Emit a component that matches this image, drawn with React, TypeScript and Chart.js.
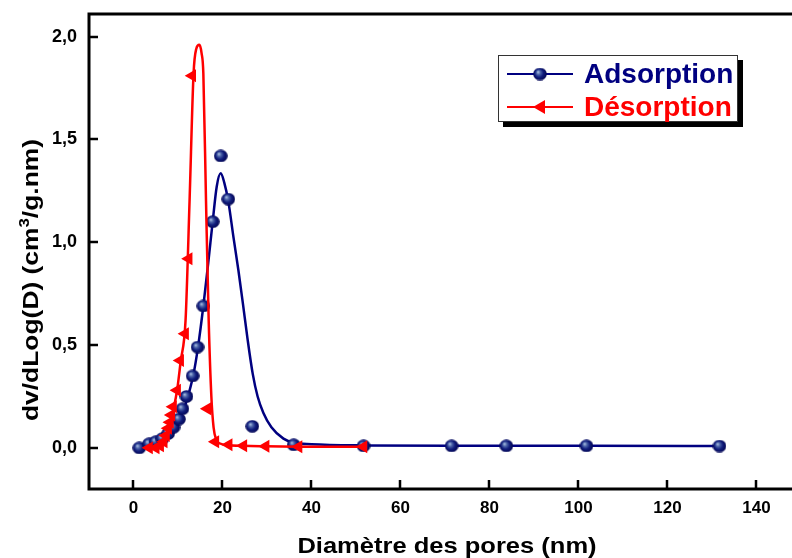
import React, { useEffect, useRef } from "react";
import { Chart, registerables } from "chart.js";

Chart.register(...registerables);

// ---- data ----
const X_TICKS = [0, 20, 40, 60, 80, 100, 120, 140];
const Y_TICKS = [0, 0.5, 1.0, 1.5, 2.0];

const ADS_POINTS_X = [1.3, 3.5, 5.0, 6.5, 7.8, 9.0, 10.2, 11.0, 11.9, 13.3, 14.4, 15.7, 17.8, 19.6, 21.3, 26.7, 36.0, 51.7, 71.5, 83.8, 101.8, 131.7];
const ADS_POINTS_Y = [0.0, 0.02, 0.03, 0.045, 0.07, 0.1, 0.14, 0.19, 0.25, 0.35, 0.49, 0.69, 1.1, 1.42, 1.21, 0.105, 0.015, 0.01, 0.01, 0.01, 0.01, 0.009];

const ADS_CURVE_X = [1.3, 3, 5, 7, 9, 10.5, 11.5, 12.5, 13.5, 14.5, 15.7, 16.8, 17.8, 18.7, 19.6, 20.4, 21.3, 22.5, 23.6, 24.6, 25.6, 26.8, 27.9, 29.2, 31, 33.7, 36, 40, 51.7, 71.5, 83.8, 101.8, 131.7];
const ADS_CURVE_Y = [0.0, 0.015, 0.03, 0.055, 0.1, 0.15, 0.2, 0.27, 0.36, 0.49, 0.69, 0.9, 1.1, 1.27, 1.335, 1.29, 1.2, 1.02, 0.86, 0.7, 0.535, 0.36, 0.25, 0.17, 0.1, 0.045, 0.025, 0.018, 0.012, 0.01, 0.01, 0.01, 0.009];

const DES_POINTS_X = [3.5, 5.0, 6.0, 6.8, 7.3, 7.8, 8.2, 8.5, 8.9, 9.8, 10.5, 11.6, 12.4, 13.2, 16.6, 18.4, 21.4, 24.7, 29.7, 37.1, 51.7];
const DES_POINTS_Y = [0.0, 0.0, 0.01, 0.03, 0.06, 0.095, 0.125, 0.16, 0.2, 0.28, 0.425, 0.555, 0.92, 1.81, 0.19, 0.03, 0.015, 0.01, 0.008, 0.006, 0.005];

const DES_CURVE_X = [3.5, 5, 6.5, 7.8, 8.9, 9.8, 10.6, 11.7, 12.6, 13.5, 14.1, 14.8, 15.3, 15.7, 16.3, 16.9, 17.5, 18.0, 18.6, 19.6, 21.4, 24.7, 29.7, 37.1, 51.7];
const DES_CURVE_Y = [0.0, 0.005, 0.025, 0.08, 0.18, 0.28, 0.42, 0.62, 1.2, 1.82, 1.94, 1.96, 1.92, 1.82, 1.2, 0.62, 0.25, 0.1, 0.04, 0.02, 0.013, 0.01, 0.008, 0.006, 0.005];

const SERIES_NAMES = ["Adsorption", "Désorption"];
const X_TITLE = "Diamètre des pores (nm)";
const Y_TITLE_A = "dv/dLog(D) (cm";
const Y_TITLE_SUP = "3";
const Y_TITLE_B = "/g.nm)";

const NAVY = "#000080";
const RED = "#ff0000";
const FONT = '"Liberation Sans", Arial, sans-serif';

const zip = (xs: number[], ys: number[]) => xs.map((x, i) => ({ x, y: ys[i] }));

function makeSphere(): HTMLCanvasElement {
  const c = document.createElement("canvas");
  c.width = 14;
  c.height = 13;
  const g = c.getContext("2d")!;
  const grad = g.createRadialGradient(5, 4.5, 0.3, 7, 6.5, 7.5);
  grad.addColorStop(0, "#a8bde0");
  grad.addColorStop(0.25, "#4a62a8");
  grad.addColorStop(0.55, "#101c7c");
  grad.addColorStop(1, "#000048");
  g.fillStyle = grad;
  g.beginPath();
  g.ellipse(7, 6.5, 6.8, 6.3, 0, 0, Math.PI * 2);
  g.fill();
  return c;
}

export default function App() {
  const ref = useRef<HTMLCanvasElement | null>(null);

  useEffect(() => {
    document.body.style.margin = "0";
    const canvas = ref.current!;
    const sphere = makeSphere();

    const decor = {
      id: "decor",
      afterDraw(chart: any) {
        const { ctx, chartArea } = chart;
        const { left, right, top, bottom } = chartArea;
        const xs = chart.scales.x;
        const ys = chart.scales.y;
        ctx.save();
        // frame
        ctx.strokeStyle = "#000";
        ctx.lineWidth = 3;
        ctx.lineCap = "butt";
        ctx.beginPath();
        ctx.moveTo(right + 4, top);
        ctx.lineTo(left, top);
        ctx.lineTo(left, bottom);
        ctx.lineTo(right + 4, bottom);
        ctx.stroke();
        // inward ticks
        ctx.lineWidth = 2.5;
        ctx.beginPath();
        X_TICKS.forEach((v) => {
          const px = Math.round(xs.getPixelForValue(v));
          ctx.moveTo(px, bottom);
          ctx.lineTo(px, bottom - 9);
        });
        Y_TICKS.forEach((v) => {
          const py = Math.round(ys.getPixelForValue(v));
          ctx.moveTo(left, py);
          ctx.lineTo(left + 9, py);
        });
        ctx.stroke();

        // x title
        ctx.fillStyle = "#000";
        ctx.font = `bold 22px ${FONT}`;
        ctx.textBaseline = "alphabetic";
        ctx.save();
        ctx.translate(447, 553);
        ctx.scale(1.16, 1);
        ctx.textAlign = "center";
        ctx.fillText(X_TITLE, 0, 0);
        ctx.restore();

        // y title (rotated, with superscript)
        ctx.save();
        ctx.translate(38, 280);
        ctx.rotate(-Math.PI / 2);
        ctx.scale(1.2, 1);
        ctx.textAlign = "left";
        ctx.font = `bold 22px ${FONT}`;
        const wa = ctx.measureText(Y_TITLE_A).width;
        const wb = ctx.measureText(Y_TITLE_B).width;
        ctx.font = `bold 14px ${FONT}`;
        const ws = ctx.measureText(Y_TITLE_SUP).width;
        const total = wa + ws + wb;
        let cx = -total / 2;
        ctx.font = `bold 22px ${FONT}`;
        ctx.fillText(Y_TITLE_A, cx, 0);
        cx += wa;
        ctx.font = `bold 14px ${FONT}`;
        ctx.fillText(Y_TITLE_SUP, cx, -9);
        cx += ws;
        ctx.font = `bold 22px ${FONT}`;
        ctx.fillText(Y_TITLE_B, cx, 0);
        ctx.restore();

        // legend
        const bx = 498, by = 55, bw = 240, bh = 67;
        ctx.fillStyle = "#000";
        ctx.fillRect(bx + 5, by + 5, bw, bh);
        ctx.fillStyle = "#fff";
        ctx.fillRect(bx, by, bw, bh);
        ctx.strokeStyle = "#333";
        ctx.lineWidth = 1;
        ctx.strokeRect(bx + 0.5, by + 0.5, bw - 1, bh - 1);

        // entry 1
        ctx.strokeStyle = NAVY;
        ctx.lineWidth = 2;
        ctx.beginPath();
        ctx.moveTo(507, 74);
        ctx.lineTo(573, 74);
        ctx.stroke();
        ctx.drawImage(sphere, 540 - 7, 74 - 6.5);
        ctx.fillStyle = NAVY;
        ctx.font = `bold 28px ${FONT}`;
        ctx.textAlign = "left";
        ctx.fillText(SERIES_NAMES[0], 584, 83);

        // entry 2
        ctx.strokeStyle = RED;
        ctx.beginPath();
        ctx.moveTo(507, 107);
        ctx.lineTo(573, 107);
        ctx.stroke();
        ctx.fillStyle = RED;
        ctx.beginPath();
        ctx.moveTo(533, 107);
        ctx.lineTo(545, 100);
        ctx.lineTo(545, 114);
        ctx.closePath();
        ctx.fill();
        ctx.fillText(SERIES_NAMES[1], 584, 116);
        ctx.restore();
      },
    };

    const chart = new Chart(canvas, {
      type: "scatter",
      data: {
        datasets: [
          {
            label: SERIES_NAMES[1] + " points",
            data: zip(DES_POINTS_X, DES_POINTS_Y),
            showLine: false,
            pointStyle: "triangle",
            rotation: 270,
            pointRadius: 7.5,
            pointBackgroundColor: RED,
            pointBorderColor: RED,
            pointBorderWidth: 0,
            clip: 10,
          } as any,
          {
            label: SERIES_NAMES[1],
            data: zip(DES_CURVE_X, DES_CURVE_Y),
            showLine: true,
            borderColor: RED,
            borderWidth: 2.5,
            pointRadius: 0,
            cubicInterpolationMode: "monotone",
          } as any,
          {
            label: SERIES_NAMES[0] + " points",
            data: zip(ADS_POINTS_X, ADS_POINTS_Y),
            showLine: false,
            pointStyle: sphere,
            pointRadius: 7,
            clip: 10,
          } as any,
          {
            label: SERIES_NAMES[0],
            data: zip(ADS_CURVE_X, ADS_CURVE_Y),
            showLine: true,
            borderColor: NAVY,
            borderWidth: 2.5,
            pointRadius: 0,
            cubicInterpolationMode: "monotone",
          } as any,
        ],
      },
      options: {
        animation: false,
        responsive: false,
        devicePixelRatio: 1,
        layout: { autoPadding: false, padding: { top: 14, right: 0, bottom: 0, left: 0 } },
        plugins: {
          legend: { display: false },
          tooltip: { enabled: false },
          title: { display: false },
        },
        scales: {
          x: {
            type: "linear",
            min: -10,
            max: 148,
            grid: { display: false, drawTicks: false },
            border: { display: false },
            afterBuildTicks: (axis: any) => {
              axis.ticks = X_TICKS.map((v) => ({ value: v }));
            },
            afterFit: (axis: any) => {
              axis.height = 69;
              axis.paddingLeft = 0;
              axis.paddingRight = 0;
            },
            ticks: {
              padding: 9,
              maxRotation: 0,
              autoSkip: false,
              color: "#000",
              font: { family: FONT, size: 17, weight: "bold" },
              callback: (v: any) => String(v),
            },
          },
          y: {
            type: "linear",
            min: -0.2,
            max: 2.11,
            grid: { display: false, drawTicks: false },
            border: { display: false },
            afterBuildTicks: (axis: any) => {
              axis.ticks = Y_TICKS.map((v) => ({ value: v }));
            },
            afterFit: (axis: any) => {
              axis.width = 89;
              axis.paddingTop = 0;
              axis.paddingBottom = 0;
            },
            ticks: {
              padding: 12,
              autoSkip: false,
              color: "#000",
              font: { family: FONT, size: 18, weight: "bold" },
              callback: (v: any) => Number(v).toFixed(1).replace(".", ","),
            },
          },
        },
      } as any,
      plugins: [decor],
    });
    return () => chart.destroy();
  }, []);

  return (
    <div style={{ width: 792, height: 558, background: "#fff" }}>
      <canvas ref={ref} width={792} height={558} style={{ display: "block" }} />
    </div>
  );
}
